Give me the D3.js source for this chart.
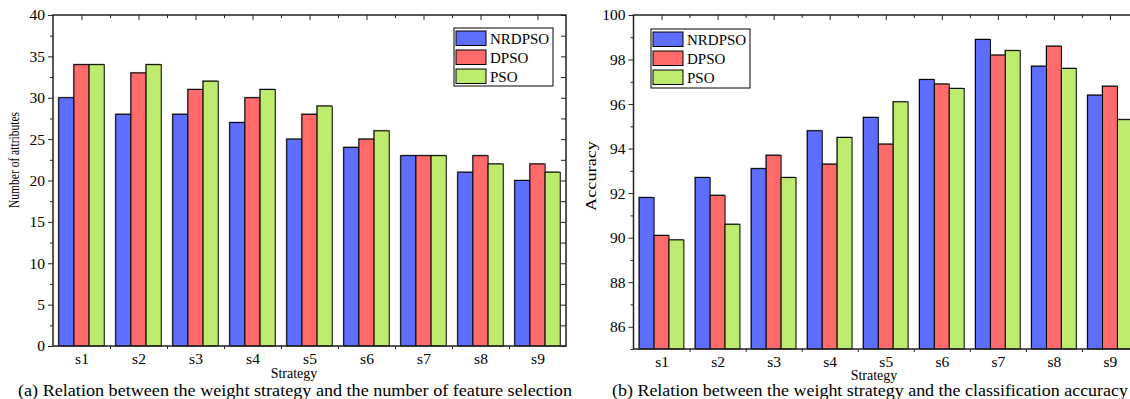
<!DOCTYPE html>
<html>
<head>
<meta charset="utf-8">
<script src="https://cdn.jsdelivr.net/npm/d3@7"></script>
<style>
  html, body { margin: 0; padding: 0; background: #fff; }
  svg { display: block; }
  svg text { font-family: "Liberation Serif", "Times New Roman", Times, serif !important; }
</style>
</head>
<body>
<svg id="chart" width="1130" height="399"></svg>
<script>
// ---------- data ----------
const categories = ["s1", "s2", "s3", "s4", "s5", "s6", "s7", "s8", "s9"];
const seriesNames = ["NRDPSO", "DPSO", "PSO"];
const seriesColors = ["#5e6eff", "#ff6b6b", "#bdeb6e"];

const attrNRDPSO = [30, 28, 28, 27, 25, 24, 23, 21, 20];
const attrDPSO   = [34, 33, 31, 30, 28, 25, 23, 23, 22];
const attrPSO    = [34, 34, 32, 31, 29, 26, 23, 22, 21];

const accNRDPSO = [91.8, 92.7, 93.1, 94.8, 95.4, 97.1, 98.9, 97.7, 96.4];
const accDPSO   = [90.1, 91.9, 93.7, 93.3, 94.2, 96.9, 98.2, 98.6, 96.8];
const accPSO    = [89.9, 90.6, 92.7, 94.5, 96.1, 96.7, 98.4, 97.6, 95.3];

const attrTicks = [0, 5, 10, 15, 20, 25, 30, 35, 40];
const accTicks = [86, 88, 90, 92, 94, 96, 98, 100];

const FONT = "Liberation Serif";
const svg = d3.select("#chart");

function drawPanel(cfg) {
  const g = svg.append("g").attr("font-family", FONT);
  const x0 = d3.scaleBand().domain(categories).range([cfg.left, cfg.right]).padding(0);
  const x1 = d3.scaleBand().domain(seriesNames).range([0, x0.bandwidth()])
    .paddingInner(0).paddingOuter(0.38);
  const y = d3.scaleLinear().domain(cfg.domain).range([cfg.bottom, cfg.top]);

  // bars
  const rows = categories.map((c, i) => ({ cat: c, vals: cfg.series.map((s, k) => ({ name: seriesNames[k], v: s[i], color: seriesColors[k] })) }));
  const grp = g.selectAll("g.grp").data(rows).join("g")
    .attr("transform", d => `translate(${x0(d.cat)},0)`);
  grp.selectAll("rect.shadow").data(d => d.vals).join("rect")
    .attr("x", d => x1(d.name) - 1)
    .attr("y", d => y(d.v) - 1)
    .attr("width", x1.bandwidth())
    .attr("height", d => cfg.bottom - y(d.v))
    .attr("fill", "#999");
  grp.selectAll("rect.bar").data(d => d.vals).join("rect")
    .attr("x", d => x1(d.name))
    .attr("y", d => y(d.v))
    .attr("width", x1.bandwidth())
    .attr("height", d => cfg.bottom - y(d.v))
    .attr("fill", d => d.color)
    .attr("stroke", "#000")
    .attr("stroke-width", 1);

  // left axis
  const leftAxis = d3.axisLeft(y).tickValues(cfg.ticks).tickSize(5).tickPadding(3);
  const la = g.append("g").attr("transform", `translate(${cfg.left},0)`).call(leftAxis)
    .attr("font-family", FONT);
  la.select(".domain").remove();
  la.selectAll("text").attr("font-size", 15.5).attr("font-family", FONT).attr("fill", "#000");
  la.selectAll("line").attr("stroke", "#222");
  const minor = d3.axisLeft(y).tickValues(cfg.minor).tickSize(3).tickFormat("");
  const lm = g.append("g").attr("transform", `translate(${cfg.left},0)`).call(minor);
  lm.select(".domain").remove();
  lm.selectAll("line").attr("stroke", "#222");

  // right axis (ticks inward)
  const allR = cfg.ticks.concat(cfg.minor);
  const ra = g.append("g").attr("transform", `translate(${cfg.right},0)`)
    .call(d3.axisLeft(y).tickValues(allR).tickSize(5).tickFormat(""));
  ra.select(".domain").remove();
  ra.selectAll("line").attr("stroke", "#222");

  // top axis ticks inward: centers long, boundaries short
  const xc = d3.scalePoint().domain(categories).range([cfg.left + x0.step() / 2, cfg.right - x0.step() / 2]);
  const ta = g.append("g").attr("transform", `translate(0,${cfg.top})`)
    .call(d3.axisBottom(xc).tickSize(5).tickFormat(""));
  ta.select(".domain").remove();
  ta.selectAll("line").attr("stroke", "#222");
  const boundaries = categories.slice(1).map(c => x0(c));
  const xb = d3.scaleIdentity().domain([cfg.left, cfg.right]);
  const tb = g.append("g").attr("transform", `translate(0,${cfg.top})`)
    .call(d3.axisBottom(xb).tickValues(boundaries).tickSize(3).tickFormat(""));
  tb.select(".domain").remove();
  tb.selectAll("line").attr("stroke", "#222");

  // bottom axis: boundary ticks outward, labels at centers
  const bb = g.append("g").attr("transform", `translate(0,${cfg.bottom})`)
    .call(d3.axisBottom(xb).tickValues(boundaries).tickSize(3).tickFormat(""));
  bb.select(".domain").remove();
  bb.selectAll("line").attr("stroke", "#222");
  const bl = g.append("g").attr("transform", `translate(0,${cfg.bottom})`)
    .call(d3.axisBottom(xc).tickSize(0).tickPadding(7))
    .attr("font-family", FONT);
  bl.select(".domain").remove();
  bl.selectAll("text").attr("font-size", 15.5).attr("font-family", FONT).attr("fill", "#000");

  // frame
  g.append("rect")
    .attr("x", cfg.left).attr("y", cfg.top)
    .attr("width", cfg.right - cfg.left).attr("height", cfg.bottom - cfg.top)
    .attr("fill", "none").attr("stroke", "#222").attr("stroke-width", 1.5);

  // legend
  const L = cfg.legend;
  g.append("rect").attr("x", L.x).attr("y", L.y).attr("width", L.w).attr("height", L.h)
    .attr("fill", "#fff").attr("stroke", "#000").attr("stroke-width", 1);
  seriesNames.forEach((n, k) => {
    const yy = L.y + 3 + k * 19;
    g.append("rect").attr("x", L.x + 2).attr("y", yy).attr("width", 30).attr("height", 14.5)
      .attr("fill", seriesColors[k]).attr("stroke", "#000").attr("stroke-width", 1);
    g.append("text").attr("x", L.x + 36).attr("y", yy + 12.5)
      .attr("font-size", 15).text(n);
  });

  // axis titles
  g.append("text")
    .attr("transform", `translate(${cfg.ylab.x},${cfg.ylab.y}) rotate(-90)`)
    .attr("text-anchor", "middle").attr("font-size", cfg.ylab.size)
    .attr("textLength", cfg.ylab.len).attr("lengthAdjust", "spacingAndGlyphs")
    .text(cfg.ylab.text);
  g.append("text").attr("x", cfg.xlab.x).attr("y", cfg.xlab.y)
    .attr("text-anchor", "middle").attr("font-size", 14).text("Strategy");

  g.append("text").attr("x", cfg.cap.x).attr("y", 396)
    .attr("font-size", 17)
    .attr("textLength", cfg.cap.len).attr("lengthAdjust", "spacingAndGlyphs")
    .text(cfg.cap.text);
}

drawPanel({
  left: 53, right: 566, top: 15, bottom: 346,
  domain: [0, 40], ticks: attrTicks,
  minor: [2.5, 7.5, 12.5, 17.5, 22.5, 27.5, 32.5, 37.5],
  series: [attrNRDPSO, attrDPSO, attrPSO],
  legend: { x: 454, y: 28, w: 99, h: 58 },
  ylab: { x: 19, y: 160, size: 14, len: 96, text: "Number of attributes" },
  xlab: { x: 294, y: 378 },
  cap: { x: 18, len: 554, text: "(a) Relation between the weight strategy and the number of feature selection" }
});

drawPanel({
  left: 633.5, right: 1138, top: 15, bottom: 349,
  domain: [85, 100], ticks: accTicks,
  minor: [85, 87, 89, 91, 93, 95, 97, 99],
  series: [accNRDPSO, accDPSO, accPSO],
  legend: { x: 651, y: 29, w: 99, h: 59 },
  ylab: { x: 596, y: 176, size: 14, len: 70, text: "Accuracy" },
  xlab: { x: 874, y: 380 },
  cap: { x: 612, len: 516, text: "(b) Relation between the weight strategy and the classification accuracy" }
});
</script>
</body>
</html>
